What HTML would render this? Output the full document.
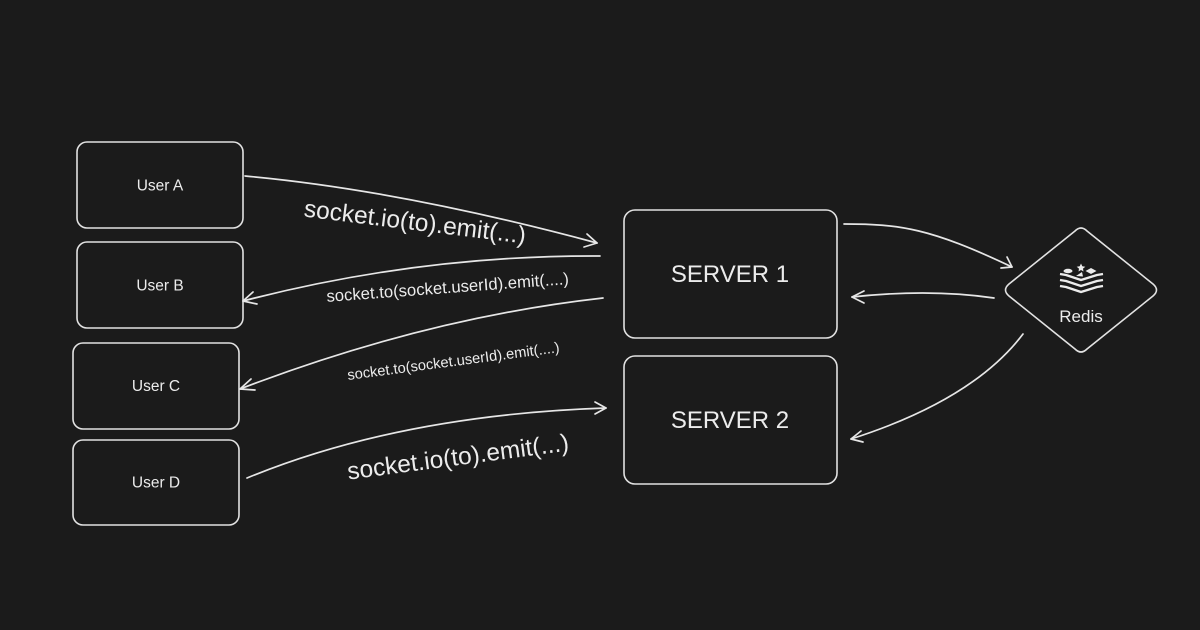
<!DOCTYPE html>
<html>
<head>
<meta charset="utf-8">
<style>
  html,body{margin:0;padding:0;background:#1b1b1b;}
  svg{display:block;}
  text{font-family:"Liberation Sans",Arial,sans-serif;fill:#ececec;}
</style>
</head>
<body>
<svg width="1200" height="630" viewBox="0 0 1200 630" xmlns="http://www.w3.org/2000/svg">
  <rect x="0" y="0" width="1200" height="630" fill="#1b1b1b"/>

  <g fill="#1b1b1b" stroke="#e2e2e2" stroke-width="1.6">
    <!-- user boxes -->
    <rect x="77" y="142" width="166" height="86" rx="10"/>
    <rect x="77" y="242" width="166" height="86" rx="10"/>
    <rect x="73" y="343" width="166" height="86" rx="10"/>
    <rect x="73" y="440" width="166" height="85" rx="10"/>
    <!-- servers -->
    <rect x="624" y="210" width="213" height="128" rx="11"/>
    <rect x="624" y="356" width="213" height="128" rx="11"/>
    <!-- redis diamond -->
    <path d="M1075,231 Q1081,225 1087,231 L1153,284 Q1160,290 1153,296 L1087,349 Q1081,355 1075,349 L1009,296 Q1002,290 1009,284 Z"/>
  </g>

  <!-- labels in boxes -->
  <g font-size="15.5" text-anchor="middle">
    <text x="160" y="190.5">User A</text>
    <text x="160" y="290.5">User B</text>
    <text x="156" y="391">User C</text>
    <text x="156" y="487.5">User D</text>
  </g>
  <g font-size="24" text-anchor="middle">
    <text x="730" y="282">SERVER 1</text>
    <text x="730" y="428">SERVER 2</text>
  </g>
  <text x="1081" y="322" font-size="17" text-anchor="middle">Redis</text>

  <!-- redis icon -->
  <g stroke="#ececec" stroke-width="2.4" fill="none" stroke-linejoin="round">
    <polyline points="1060,274 1066,275 1081,280 1097,275 1103,274"/>
    <polyline points="1060,280 1066,281 1081,286 1097,281 1103,280"/>
    <polyline points="1060,286 1066,287 1081,292 1097,287 1103,286"/>
  </g>
  <g fill="#ececec">
    <ellipse cx="1068" cy="271" rx="4.5" ry="2.2"/>
    <polygon points="1081,263.5 1082.3,266.3 1085.3,266.7 1083,268.6 1083.5,271.5 1081,270 1078.5,271.5 1079,268.6 1076.7,266.7 1079.7,266.3"/>
    <polygon points="1076,276 1082,272 1083,276.5"/>
    <polygon points="1091,268 1096.5,271 1091,274 1085.5,271"/>
  </g>

  <!-- connectors -->
  <g stroke="#e6e6e6" stroke-width="1.7" fill="none" stroke-linecap="round" stroke-linejoin="round">
    <!-- User A -> Server 1 -->
    <path d="M245,176 Q400,190 597,243"/>
    <polyline points="587,234 597,243 584,247"/>
    <!-- Server 1 -> User B -->
    <path d="M600,256 Q420,255 243,301"/>
    <polyline points="253,292 243,301 257,304"/>
    <!-- Server 1 -> User C -->
    <path d="M603,298 Q425,318 240,389"/>
    <polyline points="251,379 240,389 255,390"/>
    <!-- User D -> Server 2 -->
    <path d="M247,478 Q400,415 606,408"/>
    <polyline points="595,402 606,408 595,414"/>
    <!-- Server 1 -> Redis -->
    <path d="M844,224 C900,224 930,228 1012,267"/>
    <polyline points="1007,257 1012,267 1001,268"/>
    <!-- Redis -> Server 1 -->
    <path d="M994,298 Q930,288.5 852,297"/>
    <polyline points="864,291 852,297 864,303"/>
    <!-- Redis -> Server 2 -->
    <path d="M1023,334 Q973,400 851,439"/>
    <polyline points="861,431 851,439 863,442"/>
  </g>

  <!-- connector labels -->
  <text font-size="24.5" text-anchor="middle" transform="translate(414,230) rotate(7)">socket.io(to).emit(...)</text>
  <text font-size="16.7" text-anchor="middle" transform="translate(448,293) rotate(-4.2)">socket.to(socket.userId).emit(....)</text>
  <text font-size="14.7" text-anchor="middle" transform="translate(454,366) rotate(-7.5)">socket.to(socket.userId).emit(....)</text>
  <text font-size="24.5" text-anchor="middle" transform="translate(459,465) rotate(-7.5)">socket.io(to).emit(...)</text>
</svg>
</body>
</html>
